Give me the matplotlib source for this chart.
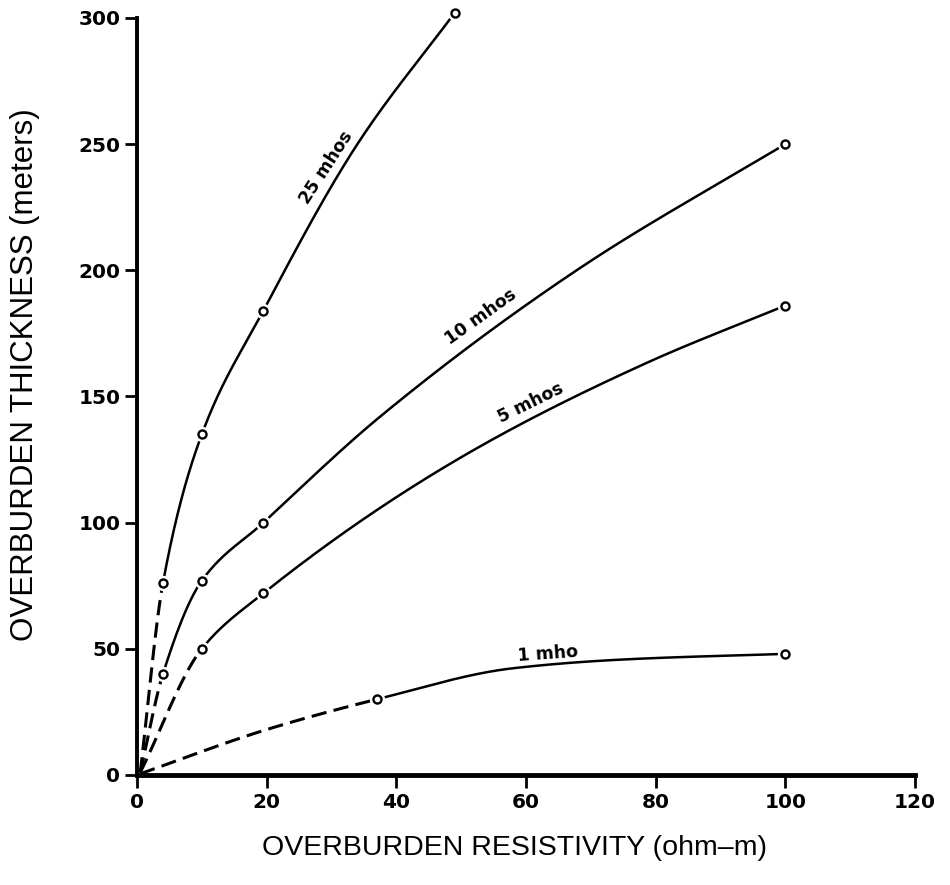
import numpy as np
import matplotlib
matplotlib.use('Agg')
from matplotlib import pyplot as plt

# measured points (circles on the chart)
m25_x = [4, 10, 19.5, 49]
m25_y = [76, 135, 184, 302]
m10_x = [4, 10, 19.5, 100]
m10_y = [40, 77, 100, 250]
m5_x = [10, 19.5, 100]
m5_y = [50, 72, 186]
m1_x = [37, 100]
m1_y = [30, 48]

# traced curve points (incl. the circles)
c25_x = [0.5, 4, 10, 19.5, 34, 49]
c25_y = [1, 76, 135, 184, 250, 302]
c10_x = [0.5, 4, 10, 19.5, 37.5, 68.4, 100]
c10_y = [1, 40, 77, 100, 142, 201, 250]
c5_x = [0.5, 10, 19.5, 49.8, 78.7, 100]
c5_y = [1, 50, 72, 125.6, 163.4, 186]
c1_x = [0.5, 20, 37, 58, 76, 100]
c1_y = [0.5, 18, 30, 42.3, 45.9, 48]

labels = ['25 mhos', '10 mhos', '5 mhos', '1 mho']
label_x = [31, 54.5, 61.7, 63.5]
label_rot = [57, 35.5, 26, 4]
label_gap = [14, 17, 14, 11]   # px above the curve

x_ticks = [0, 20, 40, 60, 80, 100, 120]
y_ticks = [0, 50, 100, 150, 200, 250, 300]


def pchip(x, y, xs):
    # monotone cubic hermite, just for drawing the smooth hand-drawn look
    x = np.asarray(x, float)
    y = np.asarray(y, float)
    xs = np.asarray(xs, float)
    h = np.diff(x)
    d = np.diff(y) / h
    m = np.zeros_like(x)
    m[0] = d[0]
    m[-1] = d[-1]
    for k in range(1, len(x) - 1):
        if d[k - 1] * d[k] > 0:
            w1 = 2 * h[k] + h[k - 1]
            w2 = h[k] + 2 * h[k - 1]
            m[k] = (w1 + w2) / (w1 / d[k - 1] + w2 / d[k])
    idx = np.clip(np.searchsorted(x, xs) - 1, 0, len(x) - 2)
    t = (xs - x[idx]) / h[idx]
    h00 = 2 * t**3 - 3 * t**2 + 1
    h10 = t**3 - 2 * t**2 + t
    h01 = -2 * t**3 + 3 * t**2
    h11 = t**3 - t**2
    return h00 * y[idx] + h10 * h[idx] * m[idx] + h01 * y[idx + 1] + h11 * h[idx] * m[idx + 1]


fig = plt.figure(figsize=(9.5, 8.85), dpi=100)
ax = fig.add_axes([0.1442, 0.1243, 0.8188, 0.8554])

curves = [(c25_x, c25_y, m25_x, m25_y),
          (c10_x, c10_y, m10_x, m10_y),
          (c5_x, c5_y, m5_x, m5_y),
          (c1_x, c1_y, m1_x, m1_y)]

for cx, cy, mx, my in curves:
    split = mx[0]  # dashed up to the first circle
    xd = np.linspace(cx[0], split, 100)
    xs = np.linspace(split, cx[-1], 400)
    ax.plot(xd, pchip(cx, cy, xd), color='black', lw=2.2, ls=(0, (5, 2.4)),
            solid_capstyle='butt', zorder=2)
    ax.plot(xs, pchip(cx, cy, xs), color='black', lw=1.8, zorder=2)
    # white halo so the lines stop short of the circles
    ax.plot(mx, my, 'o', ms=10, color='white', mec='white', zorder=3, clip_on=False)
    ax.plot(mx, my, 'o', ms=5.8, mfc='white', mec='black', mew=1.7, zorder=4, clip_on=False)

for txt, (cx, cy, mx, my), lx, rot, gap in zip(labels, curves, label_x, label_rot, label_gap):
    ly = pchip(cx, cy, [lx])[0]
    a = np.radians(rot)
    off = (-np.sin(a) * gap * 0.72, np.cos(a) * gap * 0.72)
    ax.annotate(txt, xy=(lx, ly), xytext=off, textcoords='offset points',
                rotation=rot, rotation_mode='anchor', ha='center', va='center',
                fontsize=12.5, fontweight='bold', family='DejaVu Sans', zorder=5)

ax.set_xlim(0, 120)
ax.set_ylim(0, 300)
ax.set_xticks(x_ticks)
ax.set_yticks(y_ticks)
ax.set_xticklabels([str(v) for v in x_ticks], fontsize=14.5, fontweight='bold')
ax.set_yticklabels([str(v) for v in y_ticks], fontsize=14.5, fontweight='bold')
ax.tick_params(direction='out', length=9, width=2)
ax.tick_params(axis='x', pad=4)
ax.tick_params(axis='y', pad=3)
ax.spines['top'].set_visible(False)
ax.spines['right'].set_visible(False)
ax.spines['left'].set_linewidth(2.8)
ax.spines['bottom'].set_linewidth(3.5)

fig.text(515 / 950, 1 - 848 / 885, 'OVERBURDEN RESISTIVITY (ohm\u2013m)', family='Liberation Sans',
         fontsize=20.5, ha='center', va='center')
fig.text(25 / 950, 1 - 375 / 885, 'OVERBURDEN THICKNESS (meters)', family='Liberation Sans',
         fontsize=22.5, ha='center', va='center', rotation=90)

fig.savefig('out.png', dpi=100)
